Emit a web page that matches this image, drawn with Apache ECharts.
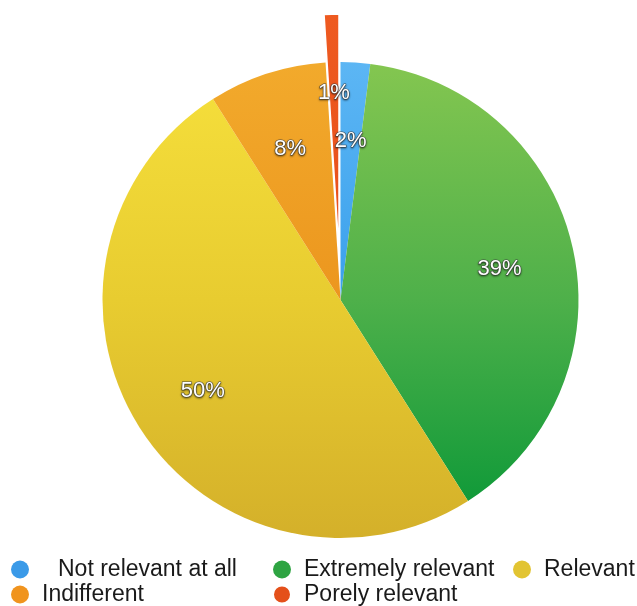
<!DOCTYPE html>
<html>
<head>
<meta charset="utf-8">
<script src="https://cdn.jsdelivr.net/npm/echarts@6/dist/echarts.min.js"></script>
<style>html,body{margin:0;padding:0;background:#fff}#c{width:637px;height:606px}</style>
</head>
<body>
<div id="c"></div>
<script>
const categories = ['Not relevant at all', 'Extremely relevant', 'Relevant', 'Indifferent', 'Porely relevant'];
const values = [2, 39, 50, 8, 1];
const explodedCategory = 'Porely relevant';
const legendColumns = [
  ['Not relevant at all', 'Indifferent'],
  ['Extremely relevant', 'Porely relevant'],
  ['Relevant']
];

const CX = 340.5, CY = 300, R = 238, EXPLODE = 48, LABEL_R = 160;
const FONT = 'Helvetica, Arial, "Liberation Sans", sans-serif';

function grad(stops) {
  return {
    type: 'linear', x: 0, y: CY - R, x2: 0, y2: CY + R, global: true,
    colorStops: stops.map((c, i) => ({ offset: i / (stops.length - 1), color: c }))
  };
}
const sliceColors = {
  'Not relevant at all': grad(['#5cb6f4', '#3aa0ec', '#1a86d8']),
  'Extremely relevant': grad(['#84c650', '#4eb04a', '#069636']),
  'Relevant': grad(['#f6e03c', '#e8cc30', '#d4b02a']),
  'Indifferent': grad(['#f2aa2c', '#ec961e', '#e48418']),
  'Porely relevant': grad(['#ee5a20', '#e8501c', '#e04a18'])
};
const legendColors = {
  'Not relevant at all': '#3a9ae8',
  'Extremely relevant': '#2ea442',
  'Relevant': '#e2c432',
  'Indifferent': '#f0941e',
  'Porely relevant': '#e4501a'
};

const labelStyle = {
  position: 'inside',
  formatter: '{c}%',
  fontSize: 22,
  fontFamily: FONT,
  color: '#ffffff',
  overflow: 'none',
  offset: [0, 4],
  textBorderColor: 'rgba(70,70,70,0.85)',
  textBorderWidth: 1.2,
  textShadowColor: 'rgba(0,0,0,0.45)',
  textShadowBlur: 2,
  textShadowOffsetY: 1
};

const mainData = categories.map((name, i) => ({
  name, value: values[i],
  selected: name === explodedCategory,
  itemStyle: {
    color: sliceColors[name],
    borderColor: name === explodedCategory ? '#fff' : 'transparent',
    borderWidth: name === explodedCategory ? 1.5 : 0
  }
}));
// labels of the slices that stay in place
const labelData = categories.map((name, i) => ({
  name, value: values[i],
  label: { show: name !== explodedCategory }
}));
// label of the exploded slice, pushed out by the explode distance
const explodedLabelData = categories.map((name, i) => ({
  name, value: values[i],
  label: { show: name === explodedCategory }
}));

const colLefts = [11, 272, 513];
const legends = legendColumns.map((col, k) => ({
  orient: 'vertical',
  left: colLefts[k],
  top: 558,
  padding: 0,
  itemGap: 2,
  itemWidth: 34,
  itemHeight: 18,
  icon: 'circle',
  selectedMode: false,
  textStyle: { fontSize: 23, lineHeight: 23, color: '#1a1a1a', fontFamily: FONT },
  data: col.map(name => ({
    name,
    itemStyle: { color: legendColors[name] },
    textStyle: name === 'Not relevant at all' ? { padding: [0, 0, 0, 16] } : {}
  }))
}));

const overlayBase = {
  type: 'pie',
  silent: true,
  center: [CX, CY],
  startAngle: 90,
  clockwise: true,
  minShowLabelAngle: 0,
  itemStyle: { color: 'rgba(0,0,0,0)' },
  labelLine: { show: false },
  emphasis: { disabled: true },
  label: Object.assign({ show: true }, labelStyle)
};

const chart = echarts.init(document.getElementById('c'), null, { renderer: 'canvas' });
chart.setOption({
  animation: false,
  backgroundColor: '#ffffff',
  legend: legends,
  series: [
    {
      type: 'pie',
      silent: true,
      center: [CX, CY],
      radius: [0, R],
      startAngle: 90,
      clockwise: true,
      selectedMode: 'multiple',
      selectedOffset: EXPLODE,
      label: { show: false },
      labelLine: { show: false },
      emphasis: { disabled: true },
      data: mainData
    },
    Object.assign({}, overlayBase, {
      radius: [2 * LABEL_R - R, R],
      data: labelData
    }),
    Object.assign({}, overlayBase, {
      radius: [2 * (LABEL_R + EXPLODE) - R, R],
      data: explodedLabelData
    })
  ]
});
</script>
</body>
</html>
